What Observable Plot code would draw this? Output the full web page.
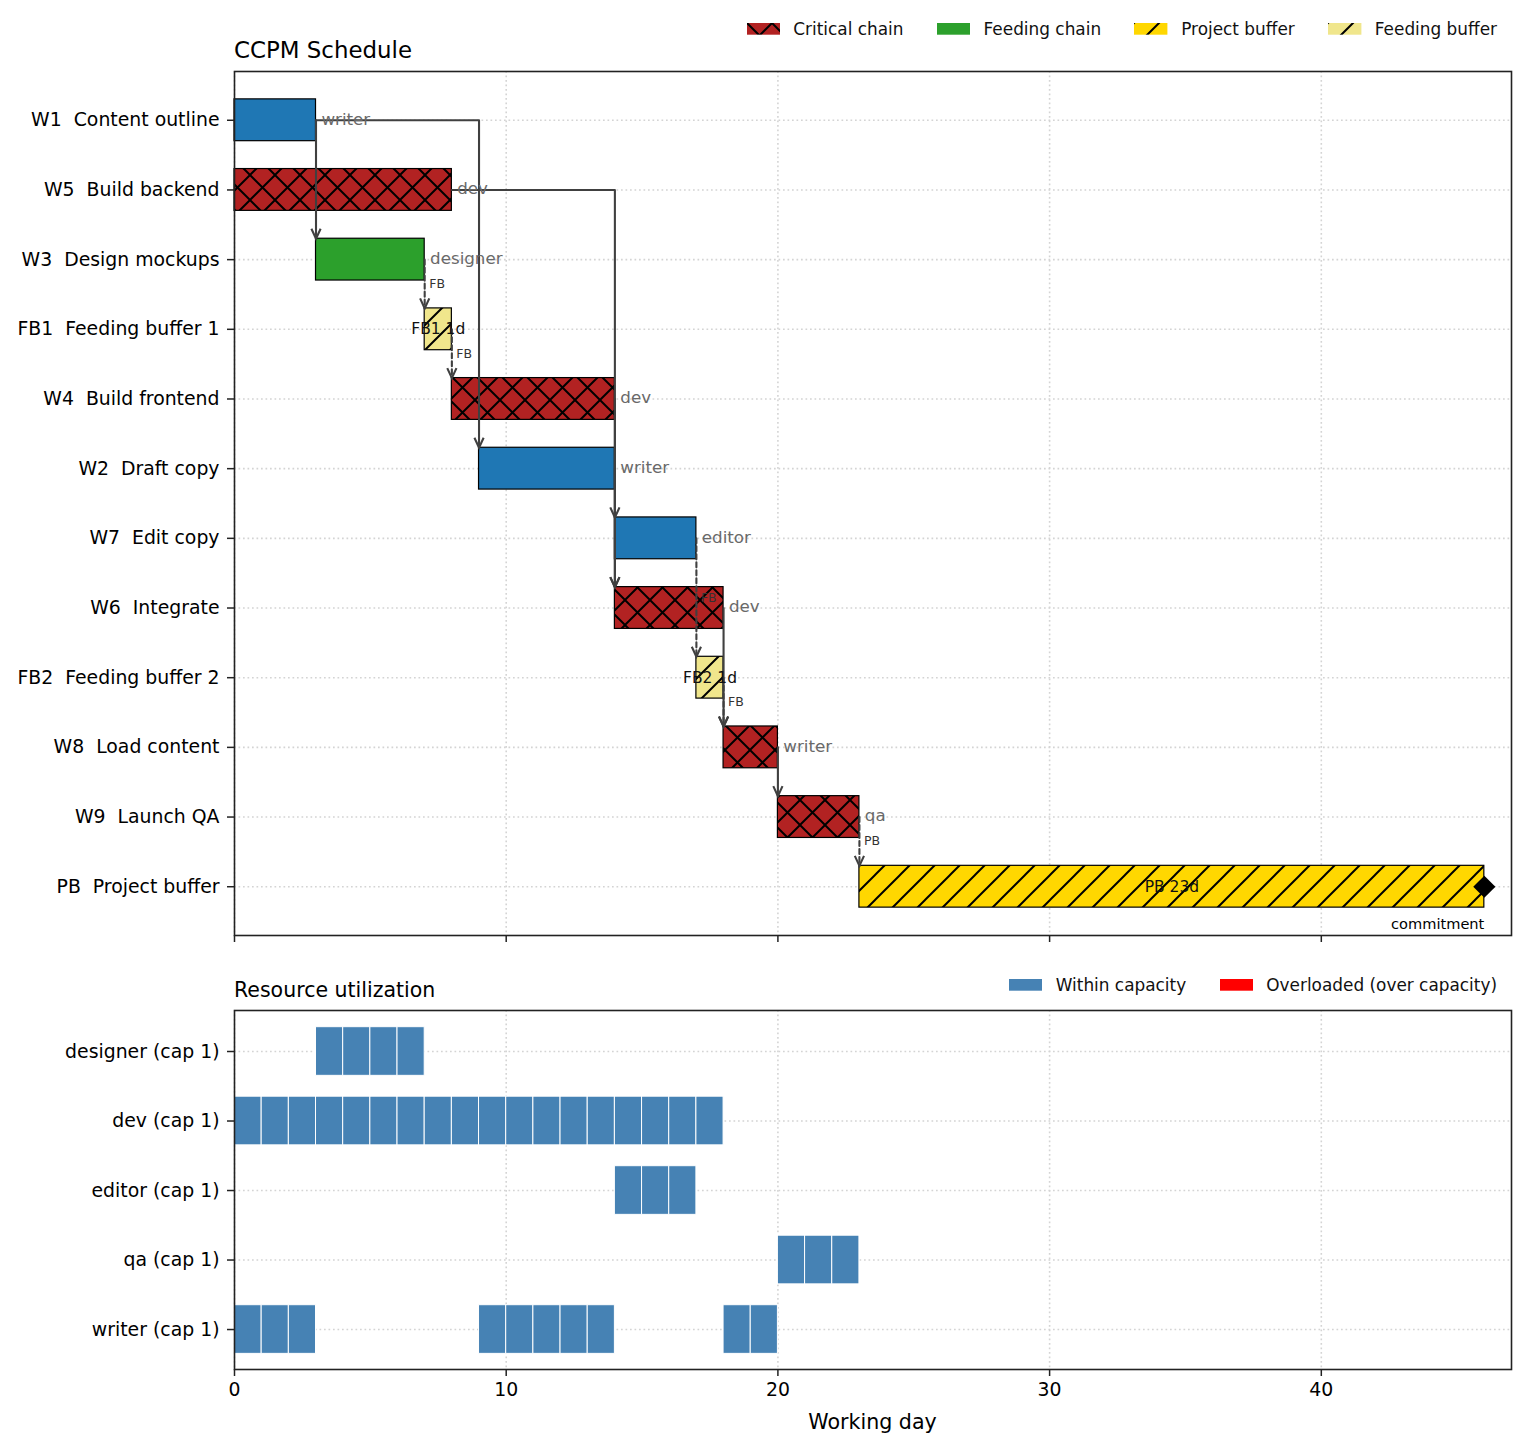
<!DOCTYPE html>
<html>
<head>
<meta charset="utf-8">
<title>CCPM Schedule</title>
<script src="https://cdn.jsdelivr.net/npm/d3@7"></script>
<script src="https://cdn.jsdelivr.net/npm/@observablehq/plot@0.6"></script>
<style>
  html, body { margin: 0; padding: 0; background: #fff; overflow: hidden; }
  #chart { position: relative; width: 1527px; height: 1450px; font-family: "DejaVu Sans", sans-serif; color: #000; }
  #chart > svg { position: absolute; left: 0; }
  #chart svg text { white-space: pre; }
  .lbl { position: absolute; white-space: pre; line-height: 1; }
  .legend { position: absolute; right: 30px; display: flex; align-items: center; font-size: 16.9px; line-height: 1; color: #111; }
  .legend .item { display: flex; align-items: center; margin-left: 33.4px; }
  .legend .item svg { display: block; margin-right: 13.3px; }
</style>
</head>
<body>
<!-- hatch fills shared by the bars and the legend swatches -->
<svg width="0" height="0" style="position:absolute" aria-hidden="true">
  <defs>
    <pattern id="hatch-critical" patternUnits="userSpaceOnUse" width="25" height="25">
      <rect width="25" height="25" fill="#b22222"/>
      <path d="M-5,5L5,-5M0,25L25,0M20,30L30,20M-5,20L5,30M0,0L25,25M20,-5L30,5" stroke="#000" stroke-width="2" fill="none"/>
    </pattern>
    <pattern id="hatch-project" patternUnits="userSpaceOnUse" width="25" height="25">
      <rect width="25" height="25" fill="#ffd700"/>
      <path d="M-5,5L5,-5M0,25L25,0M20,30L30,20" stroke="#000" stroke-width="2" fill="none"/>
    </pattern>
    <pattern id="hatch-feeding" patternUnits="userSpaceOnUse" width="25" height="25">
      <rect width="25" height="25" fill="#f0e68c"/>
      <path d="M-5,5L5,-5M0,25L25,0M20,30L30,20" stroke="#000" stroke-width="2" fill="none"/>
    </pattern>
  </defs>
</svg>
<div id="chart"></div>
<script>
// ---- schedule (top to bottom) ----
const taskIds = ["W1", "W5", "W3", "FB1", "W4", "W2", "W7", "W6", "FB2", "W8", "W9", "PB"];
const taskNames = ["Content outline", "Build backend", "Design mockups", "Feeding buffer 1", "Build frontend",
  "Draft copy", "Edit copy", "Integrate", "Feeding buffer 2", "Load content", "Launch QA", "Project buffer"];
const taskStart = [0, 0, 3, 7, 8, 9, 14, 14, 17, 18, 20, 23];
const taskEnd = [3, 8, 7, 8, 14, 14, 17, 18, 18, 20, 23, 46];
const taskKind = ["normal", "critical", "feeding", "feedBuffer", "critical", "normal", "normal", "critical",
  "feedBuffer", "critical", "critical", "projectBuffer"];
const taskResource = ["writer", "dev", "designer", null, "dev", "writer", "editor", "dev", null, "writer", "qa", null];

// ---- dependencies (tagged ones run into a buffer and are dashed) ----
const linkFrom = ["W1", "W1", "W5", "W2", "W4", "W3", "FB1", "W7", "W6", "FB2", "W8", "W9"];
const linkTo = ["W3", "W2", "W6", "W7", "W6", "FB1", "W4", "FB2", "W8", "W8", "W9", "PB"];
const linkTag = [null, null, null, null, null, "FB", "FB", "FB", null, "FB", null, "PB"];

// ---- resources ----
const resources = ["designer", "dev", "editor", "qa", "writer"];
const resourceCap = [1, 1, 1, 1, 1];

// ---- axis ----
const xTicks = [0, 10, 20, 30, 40];
const xMax = 47;

// ---- legends ----
const legendKinds = ["critical", "feeding", "projectBuffer", "feedBuffer"];
const legendLabels = ["Critical chain", "Feeding chain", "Project buffer", "Feeding buffer"];
const loadLabels = ["Within capacity", "Overloaded (over capacity)"];

const kindFill = {
  normal: "#1f77b4",
  critical: "url(#hatch-critical)",
  feeding: "#2ca02c",
  feedBuffer: "url(#hatch-feeding)",
  projectBuffer: "url(#hatch-project)"
};
const loadFill = ["steelblue", "#ff0000"];

const HALF = 0.3;          // half bar height, in rows
const GRID = { stroke: "#d4d4d4", strokeWidth: 1.6, strokeDasharray: "1.7,2.8" };
const LINK = "#404040";
const LINK_W = 2.1;
const font = '"DejaVu Sans", sans-serif';

const tasks = taskIds.map((id, i) => ({
  i, id, name: taskNames[i], start: taskStart[i], end: taskEnd[i], kind: taskKind[i], res: taskResource[i]
}));

const links = linkFrom.map((f, k) => {
  const a = taskIds.indexOf(f), b = taskIds.indexOf(linkTo[k]);
  return { k, a, b, from: taskEnd[a], to: taskStart[b], tag: linkTag[k] };
});
// elbow path: out of the predecessor's end, across, then down to the successor's top edge
const linkPts = links.flatMap(l => [
  { k: l.k, tag: l.tag, x: l.from, y: l.a },
  { k: l.k, tag: l.tag, x: l.to, y: l.a },
  { k: l.k, tag: l.tag, x: l.to, y: l.b - HALF }
]);

// open "->" arrowhead, tip at the anchor point
const headSymbol = {
  draw(ctx) {
    ctx.moveTo(-4.6, -10);
    ctx.lineTo(0, 0);
    ctx.lineTo(4.6, -10);
  }
};

const pbIndex = taskIds.indexOf("PB");
const commitment = [{ day: taskEnd[pbIndex], row: pbIndex }];

const chart = document.getElementById("chart");

// ---------------- CCPM schedule ----------------
const gantt = Plot.plot({
  width: 1527, height: 950,
  marginLeft: 234, marginRight: 16, marginTop: 71, marginBottom: 15,
  style: { fontFamily: font, fontSize: "18.75px", color: "#000", background: "transparent", overflow: "visible" },
  x: { domain: [0, xMax], label: null },
  y: { domain: [11.7, -0.7], label: null },
  color: { type: "identity" },
  marks: [
    Plot.ruleX(xTicks, { ...GRID }),
    Plot.ruleY(d3.range(taskIds.length), { ...GRID }),
    Plot.rect(tasks, {
      x1: "start", x2: "end", y1: d => d.i - HALF, y2: d => d.i + HALF,
      fill: d => kindFill[d.kind], stroke: "#000", strokeWidth: 1.2
    }),
    Plot.line(linkPts.filter(p => !p.tag), { x: "x", y: "y", z: "k", stroke: LINK, strokeWidth: LINK_W, curve: "linear" }),
    Plot.line(linkPts.filter(p => p.tag), { x: "x", y: "y", z: "k", stroke: LINK, strokeWidth: LINK_W, strokeDasharray: "5,3", curve: "linear" }),
    Plot.dot(links, { x: "to", y: d => d.b - HALF, symbol: headSymbol, stroke: LINK, strokeWidth: LINK_W, fill: "none" }),
    Plot.text(links.filter(l => l.tag), {
      x: "to", y: d => (d.a + d.b - HALF) / 2, text: "tag", dx: 4.5, textAnchor: "start", fontSize: 12.5, fill: "#333"
    }),
    Plot.text(tasks.filter(t => t.res), {
      x: "end", y: "i", text: "res", dx: 5.4, dy: -1, textAnchor: "start", fontSize: 16.7, fill: "#696969"
    }),
    Plot.text(tasks.filter(t => t.kind.endsWith("Buffer")), {
      x: d => (d.start + d.end) / 2, y: "i", text: d => `${d.id} ${d.end - d.start}d`, fontSize: 15.5, fill: "#111"
    }),
    Plot.dot(commitment, { x: "day", y: "row", symbol: "diamond2", r: 10, fill: "#000" }),
    Plot.text(commitment, {
      x: "day", y: d => d.row + 0.54, text: () => "commitment", textAnchor: "end", fontSize: 14.6, fill: "#000"
    }),
    Plot.frame({ stroke: "#222", strokeWidth: 1.6 }),
    Plot.axisY({
      ticks: d3.range(taskIds.length), tickFormat: i => `${taskIds[i]}  ${taskNames[i]}`,
      tickSize: 7, tickPadding: 8, fontSize: 18.85, label: null, stroke: "#222", strokeWidth: 1.5
    }),
    Plot.axisX({ ticks: xTicks, tickFormat: () => "", tickSize: 7, label: null, stroke: "#222", strokeWidth: 1.5 })
  ]
});
gantt.style.top = "0px";
chart.appendChild(gantt);

// ---------------- resource utilization ----------------
// one cell per resource-day, coloured by load against capacity
const cells = [];
resources.forEach((r, ri) => {
  const load = new Map();
  tasks.forEach(t => {
    if (t.res !== r) return;
    for (let d = t.start; d < t.end; d++) load.set(d, (load.get(d) || 0) + 1);
  });
  for (const [day, n] of load) cells.push({ ri, day, over: n > resourceCap[ri] });
});

const util = Plot.plot({
  width: 1527, height: 500,
  marginLeft: 234, marginRight: 16, marginTop: 60, marginBottom: 81,
  style: { fontFamily: font, fontSize: "18.75px", color: "#000", background: "transparent", overflow: "visible" },
  x: { domain: [0, xMax], label: null },
  y: { domain: [4.575, -0.59], label: null },
  color: { type: "identity" },
  marks: [
    Plot.ruleX(xTicks, { ...GRID }),
    Plot.ruleY(d3.range(resources.length), { ...GRID }),
    Plot.rect(cells, {
      x1: "day", x2: d => d.day + 1, y1: d => d.ri - 0.35, y2: d => d.ri + 0.35,
      fill: d => loadFill[d.over ? 1 : 0], stroke: "#fff", strokeWidth: 1
    }),
    Plot.frame({ stroke: "#222", strokeWidth: 1.6 }),
    Plot.axisY({
      ticks: d3.range(resources.length), tickFormat: i => `${resources[i]} (cap ${resourceCap[i]})`,
      tickSize: 7, tickPadding: 8, fontSize: 18.85, label: null, stroke: "#222", strokeWidth: 1.5
    }),
    Plot.axisX({ ticks: xTicks, tickSize: 7, tickPadding: 6, fontSize: 18.85, label: null, stroke: "#222", strokeWidth: 1.5 })
  ]
});
util.style.top = "950px";
chart.appendChild(util);

// ---------------- titles, axis label, legends ----------------
function addLabel(text, { left, top, size, center = false }) {
  const el = document.createElement("div");
  el.className = "lbl";
  el.textContent = text;
  el.style.fontSize = size + "px";
  el.style.top = top + "px";
  el.style.left = left + "px";
  if (center) el.style.transform = "translateX(-50%)";
  chart.appendChild(el);
}
addLabel("CCPM Schedule", { left: 234, top: 58.5 - 0.846 * 22.9, size: 22.9 });
addLabel("Resource utilization", { left: 234, top: 997.5 - 0.846 * 20.5, size: 20.5 });
addLabel("Working day", { left: 872.5, top: 1429 - 0.846 * 20.6, size: 20.6, center: true });

function addLegend(fills, labels, centerY) {
  const box = document.createElement("div");
  box.className = "legend";
  box.style.top = (centerY - 8.45) + "px";
  box.style.height = "16.9px";
  labels.forEach((label, i) => {
    const item = document.createElement("div");
    item.className = "item";
    const sw = document.createElementNS("http://www.w3.org/2000/svg", "svg");
    sw.setAttribute("width", "33.4");
    sw.setAttribute("height", "11.7");
    const r = document.createElementNS("http://www.w3.org/2000/svg", "rect");
    r.setAttribute("width", "33.4");
    r.setAttribute("height", "11.7");
    r.setAttribute("fill", fills[i]);
    sw.appendChild(r);
    const t = document.createElement("span");
    t.textContent = label;
    item.appendChild(sw);
    item.appendChild(t);
    box.appendChild(item);
  });
  chart.appendChild(box);
}
addLegend(legendKinds.map(k => kindFill[k]), legendLabels, 29);
addLegend(loadFill, loadLabels, 985);
</script>
</body>
</html>
